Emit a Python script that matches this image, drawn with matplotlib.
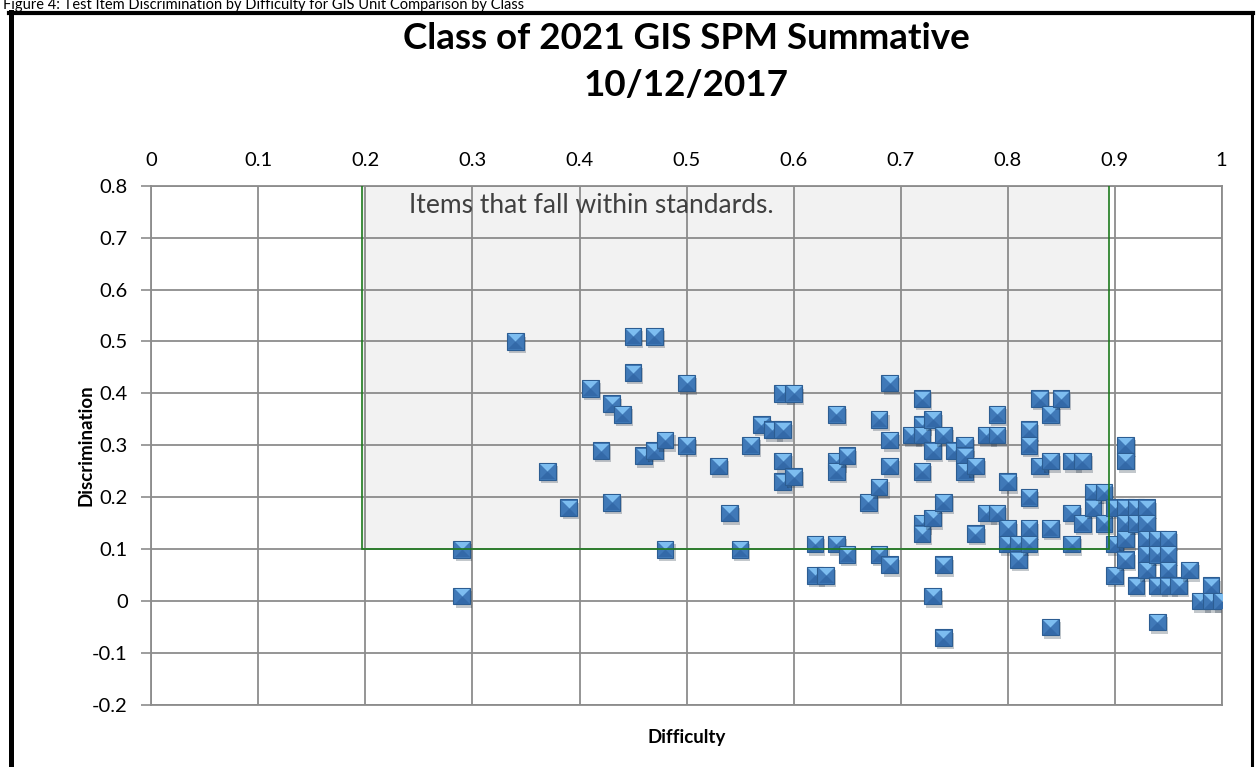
import matplotlib
matplotlib.use('Agg')
import matplotlib.pyplot as plt
import matplotlib.patheffects as pe
from matplotlib.patches import Rectangle
from matplotlib.lines import Line2D

plt.rcParams['font.family'] = ['Lato', 'DejaVu Sans']

# ── data ─────────────────────────────────────────────────────────────────────
difficulty = [
    0.29, 0.29, 0.34, 0.37, 0.39, 0.41, 0.42, 0.43, 0.43, 0.44,
    0.45, 0.45, 0.46, 0.47, 0.47, 0.48, 0.48, 0.50, 0.50, 0.53,
    0.54, 0.55, 0.56, 0.57, 0.58, 0.59, 0.59, 0.59, 0.59, 0.60,
    0.60, 0.62, 0.62, 0.63, 0.64, 0.64, 0.64, 0.64, 0.65, 0.65,
    0.67, 0.68, 0.68, 0.68, 0.69, 0.69, 0.69, 0.69, 0.71, 0.72,
    0.72, 0.72, 0.72, 0.72, 0.72, 0.73, 0.73, 0.73, 0.73, 0.74,
    0.74, 0.74, 0.74, 0.75, 0.76, 0.76, 0.76, 0.77, 0.77, 0.78,
    0.78, 0.79, 0.79, 0.79, 0.80, 0.80, 0.80, 0.81, 0.81, 0.82,
    0.82, 0.82, 0.82, 0.82, 0.83, 0.83, 0.84, 0.84, 0.84, 0.84,
    0.85, 0.86, 0.86, 0.86, 0.87, 0.87, 0.88, 0.88, 0.89, 0.89,
    0.90, 0.90, 0.90, 0.91, 0.91, 0.91, 0.91, 0.91, 0.91, 0.92,
    0.92, 0.92, 0.93, 0.93, 0.93, 0.93, 0.93, 0.94, 0.94, 0.94,
    0.94, 0.95, 0.95, 0.95, 0.95, 0.96, 0.97, 0.98, 0.99, 0.99,
    1.00,
]
discrimination = [
    0.10, 0.01, 0.50, 0.25, 0.18, 0.41, 0.29, 0.38, 0.19, 0.36,
    0.51, 0.44, 0.28, 0.51, 0.29, 0.31, 0.10, 0.42, 0.30, 0.26,
    0.17, 0.10, 0.30, 0.34, 0.33, 0.40, 0.33, 0.27, 0.23, 0.40,
    0.24, 0.11, 0.05, 0.05, 0.36, 0.27, 0.25, 0.11, 0.28, 0.09,
    0.19, 0.35, 0.22, 0.09, 0.42, 0.31, 0.26, 0.07, 0.32, 0.39,
    0.34, 0.32, 0.25, 0.15, 0.13, 0.35, 0.29, 0.16, 0.01, 0.32,
    0.19, 0.07, -0.07, 0.29, 0.30, 0.28, 0.25, 0.26, 0.13, 0.32,
    0.17, 0.36, 0.32, 0.17, 0.23, 0.14, 0.11, 0.11, 0.08, 0.33,
    0.30, 0.20, 0.14, 0.11, 0.39, 0.26, 0.36, 0.27, 0.14, -0.05,
    0.39, 0.27, 0.17, 0.11, 0.27, 0.15, 0.21, 0.18, 0.21, 0.15,
    0.18, 0.11, 0.05, 0.30, 0.27, 0.18, 0.15, 0.12, 0.08, 0.18,
    0.15, 0.03, 0.18, 0.15, 0.12, 0.09, 0.06, 0.12, 0.09, 0.03,
    -0.04, 0.12, 0.09, 0.06, 0.03, 0.03, 0.06, 0.00, 0.03, 0.00,
    0.00,
]

x_ticks = [0, 0.1, 0.2, 0.3, 0.4, 0.5, 0.6, 0.7, 0.8, 0.9, 1]
x_ticklabels = ['0', '0.1', '0.2', '0.3', '0.4', '0.5', '0.6', '0.7', '0.8', '0.9', '1']
y_ticks = [-0.2, -0.1, 0, 0.1, 0.2, 0.3, 0.4, 0.5, 0.6, 0.7, 0.8]
y_ticklabels = ['-0.2', '-0.1', '0', '0.1', '0.2', '0.3', '0.4', '0.5', '0.6', '0.7', '0.8']

# "within standards" box
box_x = (0.2, 0.9)
box_y = (0.1, 0.8)

GRID = '#8c8c8c'

# ── figure ──────────────────────────────────────────────────────────────────
fig = plt.figure(figsize=(12.57, 7.67), dpi=100)
ax = fig.add_axes([0.1205, 0.0808, 0.8513, 0.6771])

ax.set_xlim(0, 1)
ax.set_ylim(-0.2, 0.8)
ax.set_xticks(x_ticks)
ax.set_xticklabels(x_ticklabels)
ax.set_yticks(y_ticks)
ax.set_yticklabels(y_ticklabels)
ax.xaxis.tick_top()
ax.tick_params(axis='x', length=0, pad=12, labelsize=14.5, colors='black')
ax.tick_params(axis='y', length=7, width=1.2, color=GRID, pad=10, labelsize=14.5)
ax.grid(True, color=GRID, linewidth=1.3)
ax.set_axisbelow(True)
for s in ax.spines.values():
    s.set_color(GRID)
    s.set_linewidth(1.3)

# shaded box behind the grid, green outline on top
ax.add_patch(Rectangle((box_x[0] - 0.003, box_y[0]), box_x[1] - box_x[0] - 0.002,
                       box_y[1] - box_y[0] + 0.004,
                       facecolor='#f2f2f2', edgecolor='none', zorder=0.2))
ax.add_patch(Rectangle((box_x[0] - 0.003, box_y[0]), box_x[1] - box_x[0] - 0.002,
                       box_y[1] - box_y[0] + 0.004,
                       facecolor='none', edgecolor='#1e7a1e', linewidth=1.2, zorder=50))
ax.text(0.411, 0.762, 'Items that fall within standards.', ha='center', va='center',
        fontsize=19, color='#404040', zorder=51)

# bevelled square markers
top_tri = [(-1, 1), (1, 1), (0, 0), (-1, 1)]
bot_tri = [(-1, -1), (1, -1), (0, 0), (-1, -1)]
ms = 12
for i, (x, y) in enumerate(zip(difficulty, discrimination)):
    z = 3 + i * 0.01
    ax.plot(x, y, marker='s', ms=ms, mfc='#4079b8', mec='#2c5d92', mew=0.8,
            linestyle='none', zorder=z,
            path_effects=[pe.SimplePatchShadow(offset=(1.5, -2.5), alpha=0.25),
                          pe.Normal()])
    ax.plot(x, y, marker=bot_tri, ms=ms - 1.2, mfc='#3369a8', mew=0,
            linestyle='none', zorder=z + 0.002)
    ax.plot(x, y, marker=top_tri, ms=ms - 1.2, mfc='#7dbdf0', mew=0,
            linestyle='none', zorder=z + 0.004)

ax.set_ylabel('Discrimination', fontsize=13.5, fontweight='bold')
ax.yaxis.set_label_coords(-0.053, 0.5)
fig.text(0.546, 0.038, 'Difficulty', ha='center', va='center', fontsize=13.5,
         fontweight='bold')

fig.text(0.546, 0.950, 'Class of 2021 GIS SPM Summative', ha='center', va='center',
         fontsize=26.5, fontweight='bold')
fig.text(0.546, 0.888, '10/12/2017', ha='center', va='center',
         fontsize=26.5, fontweight='bold')

# caption (sits right at the top edge) and chart frame
fig.text(0.002, 1 - 9 / 767, 'Figure 4: Test Item Discrimination by Difficulty for GIS Unit '
         'Comparison by Class', ha='left', va='baseline', fontsize=10.5)
fig.add_artist(Line2D([10.5 / 1257, 10.5 / 1257], [0, 1 - 12 / 767],
                      transform=fig.transFigure, color='black', linewidth=3.6))
fig.add_artist(Line2D([9 / 1257, 1253 / 1257], [1 - 13 / 767, 1 - 13 / 767],
                      transform=fig.transFigure, color='black', linewidth=3.0))
fig.add_artist(Line2D([1252 / 1257, 1252 / 1257], [0, 1 - 12 / 767],
                      transform=fig.transFigure, color='black', linewidth=2.2))

fig.savefig('out.png', dpi=100)
